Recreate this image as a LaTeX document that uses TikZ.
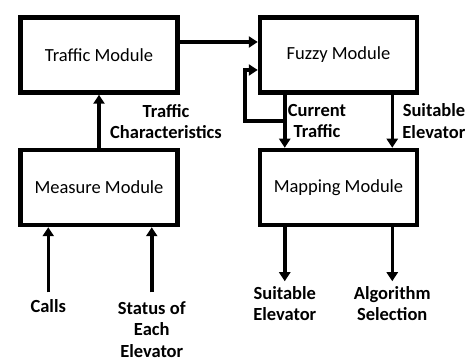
\documentclass[tikz,border=0pt]{standalone}
\usepackage{fontspec}
\setmainfont{Carlito}
\usetikzlibrary{positioning, arrows.meta, calc}

\begin{document}
\begin{tikzpicture}[
	  x=1pt, y=1pt,
	  font=\fontsize{18.5}{23}\selectfont,
	  node distance=53pt and 78pt,
	  modbox/.style={draw, line width=4.5pt, minimum width=157pt, minimum height=75pt, inner sep=0pt},
	  lbl/.style={align=center, inner sep=2pt, font=\fontsize{18.5}{21.5}\selectfont\bfseries},
	  arr/.style={-{Triangle[length=9pt,width=11pt]}, line width=3.5pt}
	]
	\useasboundingbox (0,0) rectangle (470,361);

	\node[modbox] (traffic) at (99,306) {Traffic Module};
	\node[modbox, right=of traffic] (fuzzy) {Fuzzy Module};
	\node[modbox, below=of traffic] (measure) {Measure Module};
	\node[modbox, below=of fuzzy] (mapping) {Mapping Module};

	% measure -> traffic
	\draw[arr] (measure) -- (traffic);
	\node[lbl] (tchar) at (166,239.5) {Traffic\\Characteristics};

	% traffic -> fuzzy
	\draw[arr] ([yshift=13pt]traffic.east) -- ([yshift=13pt]fuzzy.west);

	% fuzzy -> mapping, with feedback loop
	\coordinate (ctop) at ([xshift=27pt]fuzzy.south west);
	\coordinate (cbot) at ([xshift=27pt]mapping.north west);
	\coordinate (cmid) at ($(ctop)!0.5!(cbot)$);
	\coordinate (fbk) at ([xshift=-13pt,yshift=-15pt]fuzzy.west);
	\draw[arr] (ctop) -- (cbot);
	\draw[arr] (cmid) -| (fbk) -- ([yshift=-15pt]fuzzy.west);
	\node[lbl, right=1pt of cmid] (curtraffic) {Current\\Traffic};

	\coordinate (etop) at ([xshift=-27pt]fuzzy.south east);
	\coordinate (ebot) at ([xshift=-27pt]mapping.north east);
	\coordinate (emid) at ($(etop)!0.5!(ebot)$);
	\draw[arr] (etop) -- (ebot);
	\node[lbl, right=8pt of emid] (suitelev) {Suitable\\Elevator};

	% inputs of measure module
	\coordinate (callsin) at ([xshift=30pt,yshift=-65pt]measure.south west);
	\coordinate (statusin) at ([xshift=-28pt,yshift=-65pt]measure.south east);
	\draw[arr] (callsin) -- (callsin |- measure.south);
	\draw[arr] (statusin) -- (statusin |- measure.south);
	\node[lbl, below=5pt of callsin] (calls) {Calls};
	\node[lbl, below=7pt of statusin] (status) {Status of\\Each\\Elevator};

	% outputs of mapping module
	\coordinate (elevout) at ([xshift=27pt,yshift=-54pt]mapping.south west);
	\coordinate (algout) at ([xshift=-27pt,yshift=-54pt]mapping.south east);
	\draw[arr] (elevout |- mapping.south) -- (elevout);
	\draw[arr] (algout |- mapping.south) -- (algout);
	\node[lbl, below=3pt of elevout] (elevlbl) {Suitable\\Elevator};
	\node[lbl, below=3pt of algout] (alglbl) {Algorithm\\Selection};

\end{tikzpicture}
\end{document}
